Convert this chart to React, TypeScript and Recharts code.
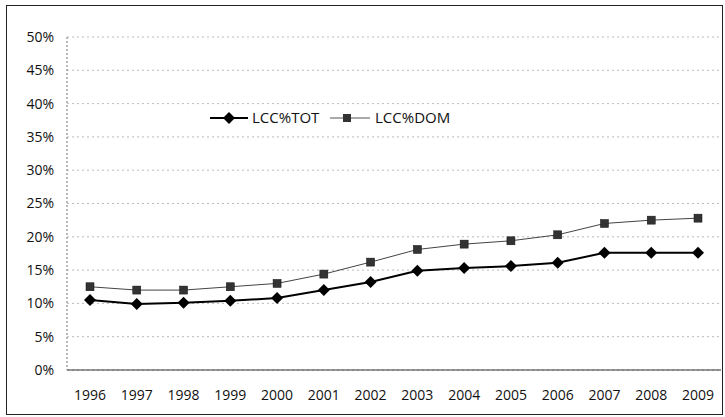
import React from "react";
import { CartesianGrid, Line, LineChart, XAxis, YAxis } from "recharts";

const years = [
  "1996", "1997", "1998", "1999", "2000", "2001", "2002",
  "2003", "2004", "2005", "2006", "2007", "2008", "2009",
];
const lccTot = [10.5, 9.9, 10.1, 10.4, 10.8, 12.0, 13.2, 14.9, 15.3, 15.6, 16.1, 17.6, 17.6, 17.6];
const lccDom = [12.5, 12.0, 12.0, 12.5, 13.0, 14.4, 16.2, 18.1, 18.9, 19.4, 20.3, 22.0, 22.5, 22.8];
const yTicks = [0, 5, 10, 15, 20, 25, 30, 35, 40, 45, 50];

const data = years.map((year, i) => ({ year, tot: lccTot[i], dom: lccDom[i] }));

const FONT = "'Open Sans', 'DejaVu Sans', sans-serif";

function DiamondDot(props: any) {
  const { cx, cy } = props;
  if (cx == null || cy == null) return null;
  const r = 6;
  return (
    <path
      d={`M${cx},${cy - r}L${cx + r},${cy}L${cx},${cy + r}L${cx - r},${cy}Z`}
      fill="#000"
    />
  );
}

function SquareDot(props: any) {
  const { cx, cy } = props;
  if (cx == null || cy == null) return null;
  const s = 4;
  return <rect x={cx - s} y={cy - s} width={s * 2} height={s * 2} fill="#333" stroke="#111" strokeWidth={0.5} />;
}

function LegendBox() {
  return (
    <svg width={260} height={24} style={{ fontFamily: FONT, display: "block" }}>
      <line x1={2} y1={12} x2={40} y2={12} stroke="#000" strokeWidth={2} />
      <path d="M21,6L27,12L21,18L15,12Z" fill="#000" />
      <text x={44} y={17} fontSize={15} fill="#111">LCC%TOT</text>
      <line x1={122} y1={12} x2={162} y2={12} stroke="#555" strokeWidth={1} />
      <rect x={135} y={8} width={8} height={8} fill="#333" />
      <text x={167} y={17} fontSize={15} fill="#111">LCC%DOM</text>
    </svg>
  );
}

export default function App() {
  return (
    <div style={{ position: "absolute", left: 0, top: 0, width: 725, height: 417, background: "#fff" }}>
      <div
        style={{
          position: "absolute",
          left: 6,
          top: 5,
          width: 717,
          height: 410,
          border: "1px solid #222",
          boxSizing: "border-box",
        }}
      />
      <div style={{ position: "absolute", left: 0, top: 0 }}>
        <LineChart
          width={725}
          height={417}
          data={data}
          margin={{ top: 37, right: 4, left: 0, bottom: 0 }}
          style={{ fontFamily: FONT }}
        >
          <CartesianGrid
            vertical={false}
            stroke="#aaa"
            strokeDasharray="2 3"
            strokeWidth={0.8}
          />
          <XAxis
            dataKey="year"
            height={47}
            padding={{ left: 23, right: 23 }}
            tickLine={false}
            axisLine={{ stroke: "#333", strokeWidth: 1.2 }}
            tick={{ fontSize: 14, fill: "#111" }}
            tickMargin={14}
            interval={0}
          />
          <YAxis
            width={67}
            domain={[0, 50]}
            ticks={yTicks}
            tickFormatter={(v) => `${v}%`}
            tickLine={false}
            axisLine={{ stroke: "#777", strokeDasharray: "2 2" }}
            tick={{ fontSize: 14, fill: "#111" }}
            tickMargin={7}
          />
          <Line
            dataKey="tot"
            name="LCC%TOT"
            stroke="#000"
            strokeWidth={2}
            dot={<DiamondDot />}
            activeDot={false}
            isAnimationActive={false}
          />
          <Line
            dataKey="dom"
            name="LCC%DOM"
            stroke="#444"
            strokeWidth={1}
            dot={<SquareDot />}
            activeDot={false}
            isAnimationActive={false}
          />
        </LineChart>
      </div>
      <div style={{ position: "absolute", left: 208, top: 106 }}>
        <LegendBox />
      </div>
    </div>
  );
}
